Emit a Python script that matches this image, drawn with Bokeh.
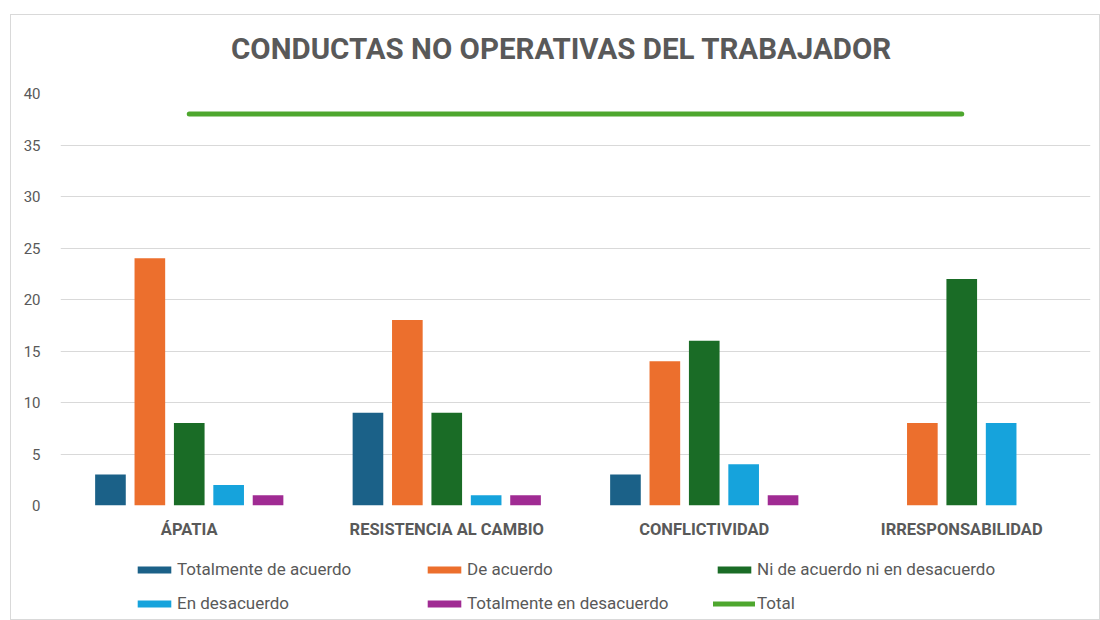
from bokeh.plotting import figure
from bokeh.layouts import column
from bokeh.models import FactorRange, Range1d, Legend, LegendItem, FixedTicker, ColumnDataSource, Label
from bokeh.transform import dodge
from bokeh.embed import file_html
from bokeh.resources import INLINE

categories = ["ÁPATIA", "RESISTENCIA AL CAMBIO", "CONFLICTIVIDAD", "IRRESPONSABILIDAD"]
series_names = ["Totalmente de acuerdo", "De acuerdo", "Ni de acuerdo ni en desacuerdo",
                "En desacuerdo", "Totalmente en desacuerdo"]
totalmente_de_acuerdo = [3, 9, 3, 0]
de_acuerdo = [24, 18, 14, 8]
ni_de_acuerdo = [8, 9, 16, 22]
en_desacuerdo = [2, 1, 4, 8]
totalmente_en_desacuerdo = [1, 1, 1, 0]
total_name = "Total"
total = [38, 38, 38, 38]
y_ticks = [0, 5, 10, 15, 20, 25, 30, 35, 40]
title_text = "CONDUCTAS NO OPERATIVAS DEL TRABAJADOR"

series_colors = ["#1B6188", "#EC6F2D", "#1A6C26", "#16A3DC", "#A02B93"]
total_color = "#4EA72E"
text_color = "#595959"

src = ColumnDataSource(dict(cat=categories,
                            s0=totalmente_de_acuerdo, s1=de_acuerdo, s2=ni_de_acuerdo,
                            s3=en_desacuerdo, s4=totalmente_en_desacuerdo, total=total))

x_range = FactorRange(*categories, range_padding=0)

# ---- title strip ----
t = figure(width=1088, height=68, output_backend="svg", toolbar_location=None,
           x_range=Range1d(0, 1), y_range=Range1d(0, 1),
           min_border_left=0, min_border_right=0, min_border_top=0, min_border_bottom=0,
           background_fill_color="white", border_fill_color="white")
t.axis.visible = False
t.grid.visible = False
t.outline_line_color = None
t.add_layout(Label(x=501, y=35, x_units="screen", y_units="screen", text=title_text,
                   text_align="center", text_baseline="middle", text_font="Roboto",
                   text_font_style="bold", text_font_size="29.5px", text_color=text_color))

# ---- main chart ----
p = figure(x_range=x_range, y_range=Range1d(0, 40),
           width=1088, height=462, output_backend="svg", toolbar_location=None,
           min_border_left=49, min_border_right=9, min_border_top=10, min_border_bottom=40,
           background_fill_color="white", border_fill_color="white")
p.outline_line_color = None

step = 0.153
offsets = [-2 * step, -step, 0, step, 2 * step]
for i, col in enumerate(series_colors):
    p.vbar(x=dodge("cat", offsets[i], range=p.x_range), top="s%d" % i, width=0.119,
           source=src, fill_color=col, line_color=None)
p.line(x="cat", y="total", source=src, line_color=total_color, line_width=5, line_cap="round")

p.xgrid.grid_line_color = None
p.ygrid.grid_line_color = "#D9D9D9"
p.ygrid.grid_line_width = 1
p.yaxis.ticker = FixedTicker(ticks=y_ticks)

for ax in (p.xaxis[0], p.yaxis[0]):
    ax.axis_line_color = None
    ax.major_tick_line_color = None
    ax.minor_tick_line_color = None
    ax.major_tick_out = 0
    ax.major_tick_in = 0
    ax.major_label_text_color = text_color
    ax.major_label_text_font = "Roboto"

p.yaxis.major_label_text_font_size = "15px"
p.yaxis.major_label_standoff = 20
p.xaxis.major_label_text_font_size = "16.5px"
p.xaxis.major_label_text_font_style = "bold"
p.xaxis.major_label_standoff = 14

# ---- legend strip (same data kept out of view; only the legend shows) ----
q = figure(width=1088, height=74, output_backend="svg", toolbar_location=None,
           x_range=x_range, y_range=Range1d(-100, -99),
           min_border_left=0, min_border_right=0, min_border_top=0, min_border_bottom=0,
           background_fill_color="white", border_fill_color="white")
q.axis.visible = False
q.grid.visible = False
q.outline_line_color = None

leg_renderers = []
for i, col in enumerate(series_colors):
    leg_renderers.append(q.vbar(x="cat", top="s%d" % i, width=0, source=src,
                                fill_color=col, line_color=None))
leg_renderers.append(q.line(x="cat", y="total", source=src, line_color=total_color,
                            line_width=5, line_cap="round"))
leg_labels = series_names + [total_name]
items = [LegendItem(label=n, renderers=[r]) for n, r in zip(leg_labels, leg_renderers)]

common = dict(orientation="horizontal", glyph_width=42, glyph_height=9, label_standoff=2,
              label_width=236, label_height=20, spacing=10, padding=0, margin=0,
              label_text_font="Roboto", label_text_font_size="17px",
              label_text_color=text_color, border_line_color=None, background_fill_alpha=0)
q.add_layout(Legend(items=items[:3], location=(73, 40), **common), "center")
q.add_layout(Legend(items=items[3:], location=(73, 6), **common), "center")

layout = column(t, p, q, spacing=0,
                styles={"border": "1px solid #d9d9d9", "margin-left": "10px", "margin-top": "14px"})

open("out.html", "w").write(file_html(layout, INLINE))
